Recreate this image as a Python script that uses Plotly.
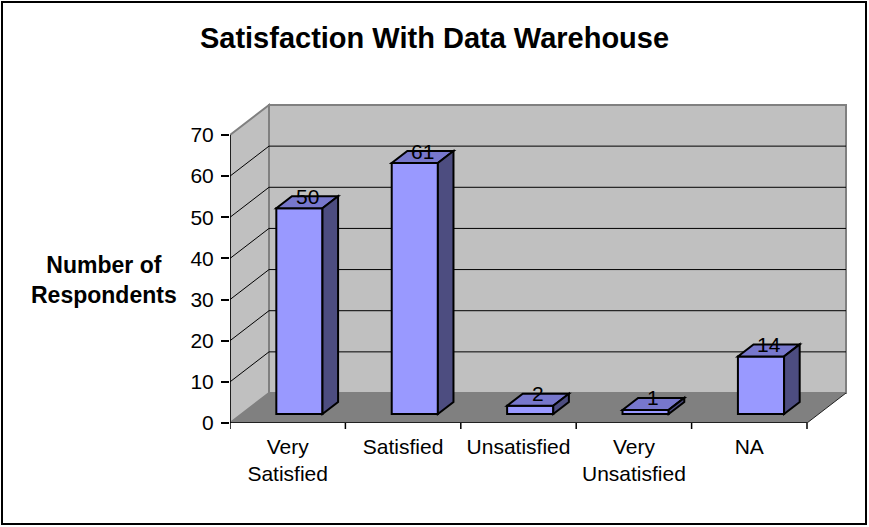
import plotly.graph_objects as go

categories = ["Very<br>Satisfied", "Satisfied", "Unsatisfied", "Very<br>Unsatisfied", "NA"]
values = [50, 61, 2, 1, 14]
y_ticks = [0, 10, 20, 30, 40, 50, 60, 70]
title_text = "Satisfaction With Data Warehouse"
y_title = "Number of<br>Respondents"

FONT = "Liberation Sans, Arial, sans-serif"
W, H = 869, 527
L, R, T, B = 230, 19, 100, 104
PX_X = 115.4          # pixels per category
PX_Y = 288 / 70.0     # pixels per unit
DX = 39 / PX_X        # depth offset (x, data units)
DY = 30 / PX_Y        # depth offset (y, data units)
YMAX = 70
n = len(values)
x0, x1 = -0.5, n - 0.5
xr = [x0, x0 + (W - L - R) / PX_X]
yr = [0, (H - T - B) / PX_Y]

FRONT = "#9999FF"
TOP = "#7777CC"
SIDE = "#4D4D80"
WALL = "#C0C0C0"
FLOOR = "#808080"
EDGE = "#808080"

def poly(pts):
    return "M " + " L ".join(f"{x},{y}" for x, y in pts) + " Z"

shapes = []
# back wall
shapes.append(dict(type="path", xref="x", yref="y", layer="below",
                   path=poly([(x0 + DX, DY), (x1 + DX, DY), (x1 + DX, YMAX + DY), (x0 + DX, YMAX + DY)]),
                   fillcolor=WALL, line=dict(color=EDGE, width=2)))
# left wall
shapes.append(dict(type="path", xref="x", yref="y", layer="below",
                   path=poly([(x0, 0), (x0, YMAX), (x0 + DX, YMAX + DY), (x0 + DX, DY)]),
                   fillcolor=WALL, line=dict(color=EDGE, width=2)))
# floor
shapes.append(dict(type="path", xref="x", yref="y", layer="below",
                   path=poly([(x0, 0), (x1, 0), (x1 + DX, DY), (x0 + DX, DY)]),
                   fillcolor=FLOOR, line=dict(width=0)))
# floor right edge
shapes.append(dict(type="line", xref="x", yref="y", layer="below",
                   x0=x1, y0=0, x1=x1 + DX, y1=DY, line=dict(color="#202020", width=1)))
# gridlines
for v in y_ticks[1:-1]:
    shapes.append(dict(type="line", xref="x", yref="y", layer="below",
                       x0=x0 + DX, y0=v + DY, x1=x1 + DX, y1=v + DY, line=dict(color="black", width=1)))
    shapes.append(dict(type="line", xref="x", yref="y", layer="below",
                       x0=x0, y0=v, x1=x0 + DX, y1=v + DY, line=dict(color="black", width=1)))
# front axes
shapes.append(dict(type="line", xref="x", yref="y", x0=x0, y0=0, x1=x0, y1=YMAX,
                   line=dict(color="black", width=1.5)))
shapes.append(dict(type="line", xref="x", yref="y", x0=x0, y0=0, x1=x1, y1=0,
                   line=dict(color="black", width=1.5)))
for k in range(n + 1):
    shapes.append(dict(type="line", xref="x", yref="paper", x0=x0 + k, x1=x0 + k,
                       y0=0, y1=-6 / (H - T - B), line=dict(color="black", width=1.5)))

# bars' 3D faces
bw = 0.4
d0, d1 = 0.3, 0.7
bx = [i + d0 * DX for i in range(n)]
for xc, v in zip(bx, values):
    xl, xrr = xc - bw / 2, xc + bw / 2
    yb, yt = d0 * DY, v + d0 * DY
    ddx, ddy = (d1 - d0) * DX, (d1 - d0) * DY
    shapes.append(dict(type="path", xref="x", yref="y",
                       path=poly([(xl, yt), (xrr, yt), (xrr + ddx, yt + ddy), (xl + ddx, yt + ddy)]),
                       fillcolor=TOP, line=dict(color="black", width=2)))
    shapes.append(dict(type="path", xref="x", yref="y",
                       path=poly([(xrr, yb), (xrr + ddx, yb + ddy), (xrr + ddx, yt + ddy), (xrr, yt)]),
                       fillcolor=SIDE, line=dict(color="black", width=2)))

# outer border
pw, ph = W - L - R, H - T - B
shapes.append(dict(type="rect", xref="paper", yref="paper",
                   x0=(2 - L) / pw, x1=(866 - L) / pw,
                   y0=(H - B - 524) / ph, y1=(H - B - 2) / ph,
                   line=dict(color="black", width=2), fillcolor="rgba(0,0,0,0)"))

fig = go.Figure()
fig.add_trace(go.Bar(x=bx, y=values, base=d0 * DY, width=bw,
                     marker=dict(color=FRONT, line=dict(color="black", width=2)),
                     hoverinfo="skip"))

annotations = []
for xc, v in zip(bx, values):
    annotations.append(dict(x=xc + 0.5 * (d1 - d0) * DX, y=v + 0.5 * (d0 + d1) * DY,
                            xref="x", yref="y", text=str(v), showarrow=False, yshift=6,
                            font=dict(family=FONT, size=21, color="black")))
annotations.append(dict(x=(104 - L) / pw, y=(H - B - 280) / ph, xref="paper", yref="paper",
                        xanchor="center", yanchor="middle",
                        text=f"<b>{y_title}</b>", showarrow=False,
                        font=dict(family=FONT, size=23, color="black")))

fig.update_layout(
    width=W, height=H,
    margin=dict(l=L, r=R, t=T, b=B, pad=0),
    paper_bgcolor="white", plot_bgcolor="white",
    showlegend=False,
    title=dict(text=f"<b>{title_text}</b>", x=0.5, xanchor="center", y=1 - 38 / H, yanchor="middle",
               font=dict(family=FONT, size=29, color="black")),
    xaxis=dict(range=xr, showgrid=False, zeroline=False, showline=False,
               tickvals=list(range(n)), ticktext=categories, ticks="", ticklabelstandoff=9,
               tickfont=dict(family=FONT, size=21, color="black")),
    yaxis=dict(range=yr, showgrid=False, zeroline=False, showline=False,
               tickvals=y_ticks, ticks="outside", ticklen=8, tickwidth=1.5, tickcolor="black",
               ticklabelstandoff=3,
               tickfont=dict(family=FONT, size=21, color="black")),
    shapes=shapes, annotations=annotations,
)
fig.write_html("out.html", config={"displayModeBar": False},
               post_script="document.body.style.margin='0';document.body.style.padding='0';")
